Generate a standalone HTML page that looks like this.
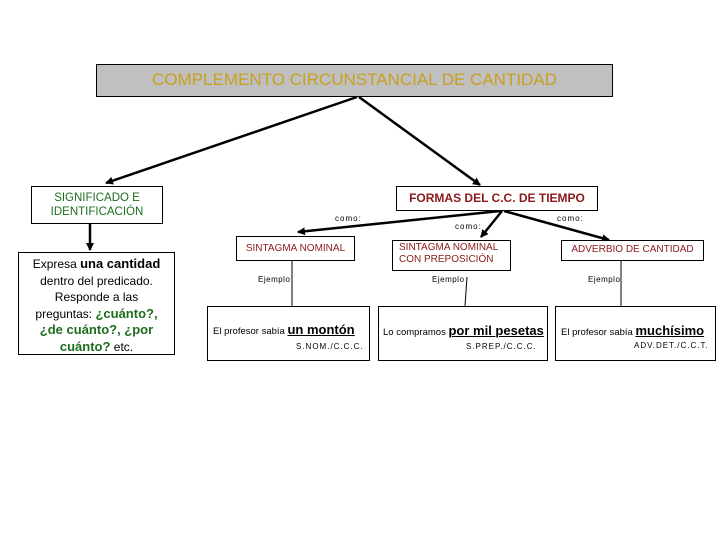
<!DOCTYPE html>
<html><head><meta charset="utf-8"><style>
body{margin:0;width:720px;height:540px;background:#fff;position:relative;overflow:hidden;font-family:"Liberation Sans",sans-serif}
.b{position:absolute;border:1px solid #000;background:#fff;box-sizing:border-box}
.t{position:absolute;white-space:nowrap}
.r{color:#8b1a1a}
.s{font-size:8px;letter-spacing:1px}
u b{font-size:13px}
</style></head><body>
<svg width="720" height="540" style="position:absolute;left:0;top:0">
<defs><marker id="a" markerWidth="8" markerHeight="8" refX="7" refY="4" orient="auto" markerUnits="userSpaceOnUse"><path d="M0,0 L8,4 L0,8 z" fill="#000"/></marker></defs>
<g stroke="#000" stroke-width="2.5" fill="none">
<line x1="357" y1="97" x2="106" y2="183" marker-end="url(#a)"/>
<line x1="359" y1="97" x2="480" y2="185" marker-end="url(#a)"/>
<line x1="90" y1="224" x2="90" y2="250" marker-end="url(#a)"/>
<line x1="500" y1="211" x2="298" y2="232" marker-end="url(#a)"/>
<line x1="502" y1="211" x2="481" y2="237" marker-end="url(#a)"/>
<line x1="504" y1="211" x2="609" y2="240" marker-end="url(#a)"/>
</g>
<g stroke="#000" stroke-width="1">
<line x1="292" y1="260" x2="292" y2="306"/>
<line x1="467" y1="277" x2="465" y2="306"/>
<line x1="621" y1="260" x2="621" y2="306"/>
</g>
</svg>
<div class="b" style="left:96px;top:64px;width:517px;height:33px;background:#c0c0c0;border-width:1.5px"></div>
<div class="t" style="left:96px;top:70px;width:517px;text-align:center;color:#c8a01e;font-size:17px">COMPLEMENTO CIRCUNSTANCIAL DE CANTIDAD</div>

<div class="b" style="left:31px;top:186px;width:132px;height:38px"></div>
<div class="t" style="left:31px;top:191px;width:132px;text-align:center;color:#1e6e1e;font-size:11.5px;line-height:14px">SIGNIFICADO E<br>IDENTIFICACIÓN</div>

<div class="b" style="left:18px;top:252px;width:157px;height:103px"></div>
<div class="t" style="left:18px;top:256px;width:157px;text-align:center;font-size:12px;line-height:16.5px">Expresa <b style="font-size:13px">una cantidad</b><br>dentro del predicado.<br>Responde a las<br>preguntas: <b style="color:#1e6e1e;font-size:13px">¿cuánto?,<br>¿de cuánto?, ¿por<br>cuánto?</b> etc.</div>

<div class="b" style="left:396px;top:186px;width:202px;height:25px"></div>
<div class="t r" style="left:396px;top:191px;width:202px;text-align:center;font-size:12px"><b>FORMAS DEL C.C. DE TIEMPO</b></div>

<div class="t s" style="left:335px;top:214px">como:</div>
<div class="t s" style="left:455px;top:222px">como:</div>
<div class="t s" style="left:557px;top:214px">como:</div>

<div class="b" style="left:236px;top:236px;width:119px;height:25px"></div>
<div class="t r" style="left:236px;top:243px;width:119px;text-align:center;font-size:10px">SINTAGMA NOMINAL</div>
<div class="b" style="left:392px;top:240px;width:119px;height:31px"></div>
<div class="t r" style="left:399px;top:242px;font-size:10px;line-height:12px">SINTAGMA NOMINAL<br>CON PREPOSICIÓN</div>
<div class="b" style="left:561px;top:240px;width:143px;height:21px"></div>
<div class="t r" style="left:561px;top:244px;width:143px;text-align:center;font-size:10px">ADVERBIO DE CANTIDAD</div>

<div class="t s" style="left:258px;top:275px;letter-spacing:0.5px">Ejemplo</div>
<div class="t s" style="left:432px;top:275px;letter-spacing:0.5px">Ejemplo</div>
<div class="t s" style="left:588px;top:275px;letter-spacing:0.5px">Ejemplo</div>

<div class="b" style="left:207px;top:306px;width:163px;height:55px"></div>
<div class="t" style="left:213px;top:322px;font-size:9.5px">El profesor sabía <u><b>un montón</b></u></div>
<div class="t s" style="left:296px;top:342px">S.NOM./C.C.C.</div>

<div class="b" style="left:378px;top:306px;width:170px;height:55px"></div>
<div class="t" style="left:383px;top:323px;font-size:9.5px">Lo compramos <u><b>por mil pesetas</b></u></div>
<div class="t s" style="left:466px;top:342px">S.PREP./C.C.C.</div>

<div class="b" style="left:555px;top:306px;width:161px;height:55px"></div>
<div class="t" style="left:561px;top:323px;font-size:9.5px">El profesor sabía <u><b>muchísimo</b></u></div>
<div class="t s" style="left:634px;top:341px">ADV.DET./C.C.T.</div>
</body></html>
